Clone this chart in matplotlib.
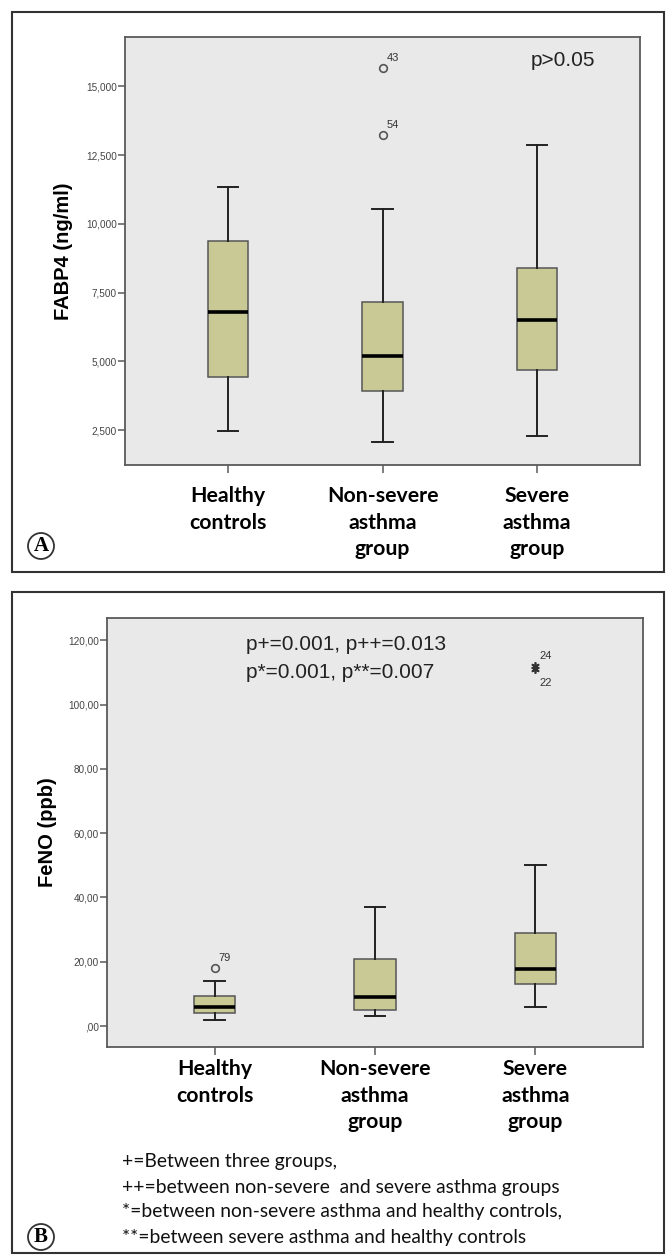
import matplotlib
matplotlib.use("Agg")
import matplotlib.pyplot as plt
from matplotlib.patches import Rectangle, Ellipse

# ---------------- data ----------------
groups = ["Healthy\ncontrols", "Non-severe\nasthma\ngroup", "Severe\nasthma\ngroup"]

fabp4_whislo = [2460, 2080, 2285]
fabp4_q1 = [4430, 3935, 4700]
fabp4_med = [6810, 5190, 6500]
fabp4_q3 = [9390, 7160, 8390]
fabp4_whishi = [11360, 10550, 12860]
fabp4_out_group = [2, 2]
fabp4_out_val = [15670, 13240]
fabp4_out_id = ["43", "54"]
fabp4_ticks = [2500, 5000, 7500, 10000, 12500, 15000]
fabp4_ticklabels = ["2,500", "5,000", "7,500", "10,000", "12,500", "15,000"]

feno_whislo = [2.0, 3.1, 6.0]
feno_q1 = [4.0, 5.1, 13.0]
feno_med = [6.0, 9.1, 17.6]
feno_q3 = [9.5, 21.0, 29.1]
feno_whishi = [13.9, 37.0, 50.1]
feno_out_group = [1, 3, 3]
feno_out_val = [18.0, 112.0, 111.0]
feno_out_id = ["79", "24", "22"]
feno_out_marker = ["o", "*", "*"]
feno_ticks = [0, 20, 40, 60, 80, 100, 120]
feno_ticklabels = [",00", "20,00", "40,00", "60,00", "80,00", "100,00", "120,00"]

footnotes = ["+=Between three groups,",
             "++=between non-severe  and severe asthma groups",
             "*=between non-severe asthma and healthy controls,",
             "**=between severe asthma and healthy controls"]

# ---------------- style ----------------
W, H = 668, 1255
BOX_FILL = "#c9c996"
AX_BG = "#e9e9e9"
SPINE = "#5a5a5a"

fig = plt.figure(figsize=(W / 100, H / 100), dpi=100)
fig.patch.set_facecolor("white")


def ax_rect(left, top, right, bottom):
    return [left / W, 1 - bottom / H, (right - left) / W, (bottom - top) / H]


def draw_panel(ax, whislo, q1, med, q3, whishi, ylim, ticks, ticklabels, ylabel, xpad):
    stats = []
    for i in range(len(groups)):
        stats.append(dict(whislo=whislo[i], q1=q1[i], med=med[i], q3=q3[i],
                          whishi=whishi[i], fliers=[], label=groups[i]))
    ax.bxp(stats, positions=[1, 2, 3], widths=0.26, patch_artist=True,
           showfliers=False, capwidths=0.13,
           boxprops=dict(facecolor=BOX_FILL, edgecolor="#555555", linewidth=1.1),
           medianprops=dict(color="black", linewidth=2.6, solid_capstyle="butt"),
           whiskerprops=dict(color="#222222", linewidth=1.4),
           capprops=dict(color="#222222", linewidth=1.4))
    ax.set_facecolor(AX_BG)
    for s in ax.spines.values():
        s.set_color(SPINE)
        s.set_linewidth(1.3)
    ax.set_ylim(*ylim)
    ax.set_xlim(0.33, 3.67)
    ax.set_yticks(ticks)
    ax.set_yticklabels(ticklabels, fontsize=7.2, color="#444444",
                       family="Liberation Sans")
    ax.tick_params(axis="y", length=5, width=1.1, color=SPINE, pad=1)
    ax.tick_params(axis="x", length=6, width=1.1, color=SPINE, pad=xpad)
    ax.set_xticks([1, 2, 3])
    ax.set_xticklabels(groups, fontsize=15.3, fontweight="bold",
                       family="Lato", linespacing=1.42)
    ax.set_ylabel(ylabel, fontsize=14.5, fontweight="bold",
                  family="Liberation Sans")


def panel_letter(x, y, letter):
    fig.patches.append(Ellipse((x / W, 1 - y / H), 26 / W, 26 / H,
                               transform=fig.transFigure, facecolor="white",
                               edgecolor="#333333", linewidth=1.3))
    fig.text(x / W, 1 - y / H, letter, ha="center", va="center",
             fontsize=15, fontweight="bold", family="Liberation Serif")


# panel borders
for (l, t, r, b) in [(12, 12, 664, 572), (12, 592, 664, 1253)]:
    fig.patches.append(Rectangle((l / W, 1 - b / H), (r - l) / W, (b - t) / H,
                                 transform=fig.transFigure, fill=False,
                                 edgecolor="#333333", linewidth=1.5))

# ---------------- panel A ----------------
axA = fig.add_axes(ax_rect(125, 37, 640, 465))
draw_panel(axA, fabp4_whislo, fabp4_q1, fabp4_med, fabp4_q3, fabp4_whishi,
           (1230, 16800), fabp4_ticks, fabp4_ticklabels, "FABP4 (ng/ml)", 9)
axA.yaxis.set_label_coords(-0.101, 0.5)
for g, v, lab in zip(fabp4_out_group, fabp4_out_val, fabp4_out_id):
    axA.plot([g], [v], marker="o", ms=5.5, mfc="none", mec="#555555", mew=1.2,
             linestyle="none")
    axA.annotate(lab, (g, v), xytext=(3, 5), textcoords="offset points",
                 fontsize=8, color="#333333", family="Liberation Sans")
axA.text(0.851, 0.945, "p>0.05", transform=axA.transAxes, ha="center", va="center",
         fontsize=15, family="Liberation Sans", color="#222222")
panel_letter(41, 546, "A")

# ---------------- panel B ----------------
axB = fig.add_axes(ax_rect(107, 618, 643, 1047))
draw_panel(axB, feno_whislo, feno_q1, feno_med, feno_q3, feno_whishi,
           (-6.5, 126.9), feno_ticks, feno_ticklabels, "FeNO (ppb)", 2.5)
axB.yaxis.set_label_coords(-0.093, 0.5)
for g, v, lab, m in zip(feno_out_group, feno_out_val, feno_out_id, feno_out_marker):
    if m == "o":
        axB.plot([g], [v], marker="o", ms=5.5, mfc="none", mec="#555555", mew=1.2,
                 linestyle="none")
        off = (3, 5)
    else:
        axB.plot([g], [v], marker=(6, 2, 0), ms=6, mec="#333333", mew=1.2,
                 linestyle="none")
        off = (3, 5) if lab == "24" else (3, -12)
    axB.annotate(lab, (g, v), xytext=off, textcoords="offset points",
                 fontsize=8, color="#333333", family="Liberation Sans")
fig.text(246 / W, 1 - 645 / H, "p+=0.001, p++=0.013", ha="left", va="center",
         fontsize=15, family="Liberation Sans", color="#222222")
fig.text(246 / W, 1 - 673 / H, "p*=0.001, p**=0.007", ha="left", va="center",
         fontsize=15, family="Liberation Sans", color="#222222")

for i, line in enumerate(footnotes):
    fig.text(122 / W, 1 - (1162 + i * 25) / H, line, ha="left", va="center",
             fontsize=13.9, family="Lato", color="#111111")
panel_letter(41, 1237, "B")

fig.savefig("out.png", dpi=100, facecolor="white")
